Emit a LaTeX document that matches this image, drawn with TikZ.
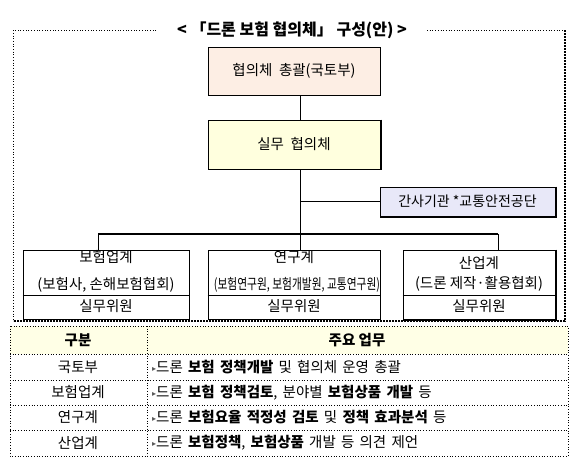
\documentclass[tikz,border=0pt]{standalone}
\usepackage{fontspec}
\setmainfont{Noto Sans CJK KR}
\newfontfamily\rowfont{Noto Sans CJK KR}[WordSpace=1.6]
\newfontfamily\dejavu{DejaVu Sans}
\usetikzlibrary{calc}
\definecolor{peach}{RGB}{253,238,228}
\definecolor{paleyellow}{RGB}{255,255,222}
\definecolor{lavender}{RGB}{232,232,248}
\definecolor{hdryellow}{RGB}{255,255,230}
\definecolor{markgray}{RGB}{90,90,90}
\newcommand{\mk}{\raisebox{1pt}{\dejavu\fontsize{8}{8}\selectfont\color{markgray}▸}}
\begin{document}
\begin{tikzpicture}[x=1pt,y=-1pt,
  every node/.style={font=\fontsize{14.5}{16}\selectfont, inner sep=0pt},
  orgbox/.style={draw, line width=1pt},
  shadowedge/.style={line width=2pt},
  conn/.style={line width=1pt},
  bar/.style={line width=2pt},
  outerdot/.style={dotted, line width=0.7pt},
  outerheavy/.style={line width=1.6pt, dash pattern=on 1.6pt off 1.4pt},
  tbl/.style={dotted, line width=0.7pt},
  cell/.style={anchor=center},
  rowtext/.style={anchor=west, font=\rowfont\fontsize{14.5}{16}\selectfont}]
\useasboundingbox (0,0) rectangle (579,464);

% title and outer dotted frame
\node[font=\bfseries\fontsize{16}{18}\selectfont] (title) at (292,30) {< 「드론 보험 협의체」 구성(안) >};
\draw[outerdot] (156,30) -- (13,30) -- (13,321);
\draw[outerdot] (427,30) -- (565,30);
\draw[outerheavy] (565,30) -- (565,321) -- (13,321);

% boxes
\node[orgbox, fill=peach, minimum width=172pt, minimum height=48pt] (b1) at (294,71) {협의체\ \ 총괄(국토부)};
\node[orgbox, fill=paleyellow, minimum width=172pt, minimum height=49pt] (b2) at (294,144.5) {실무\ \ 협의체};
\draw[shadowedge] (b2.north east) -- (b2.south east);
\node[orgbox, fill=lavender, minimum width=175pt, minimum height=29pt, font=\fontsize{14}{16}\selectfont] (b3) at (467.5,201.5) {간사기관 *교통안전공단};
\draw[shadowedge] (b3.north east) -- (b3.south east) -- (b3.south west);

\node[orgbox, minimum width=166pt, minimum height=69pt] (bA) at (106,284.5) {};
\node[orgbox, minimum width=172pt, minimum height=69pt] (bB) at (294,284.5) {};
\node[orgbox, minimum width=152pt, minimum height=69pt] (bC) at (479,284.5) {};
\draw[shadowedge] (bC.north east) -- (bC.south east) -- (bC.south west);

\foreach \b in {bA,bB,bC}
  \draw[line width=1pt] ($(\b.north west)+(0,46)$) -- ($(\b.north east)+(0,46)$);

\node (tA1) at ($(bA.north)+(0,8)$) {보험업계};
\node (tA2) at ($(bA.north)+(0,35)$) {(보험사, 손해보험협회)};
\node (tA3) at ($(bA.north)+(0,57)$) {실무위원};
\node (tB1) at ($(bB.north)+(0,8)$) {연구계};
\node (tB2) at ($(bB.north)+(3,35)$) {\scalebox{0.74}[1]{(보험연구원, 보험개발원, 교통연구원)}};
\node (tB3) at ($(bB.north)+(0,57)$) {실무위원};
\node (tC1) at ($(bC.north)+(0,14)$) {산업계};
\node (tC2) at ($(bC.north)+(0,34)$) {(드론 제작·활용협회)};
\node (tC3) at ($(bC.north)+(0,57)$) {실무위원};

% connectors
\coordinate (spine) at (300,234);
\coordinate (dropA) at (98,234);
\coordinate (dropC) at (498,234);
\draw[conn] (b1.south -| spine) -- (b2.north -| spine);
\draw[conn] (b2.south -| spine) -- (spine);
\draw[conn] (spine |- b3.west) -- (b3.west);
\draw[bar] (dropA) -- (dropC);
\draw[conn] (dropA) -- (dropA |- bA.north);
\draw[conn] (spine) -- (spine |- bB.north);
\draw[conn] (dropC) -- (dropC |- bC.north);

% table
\fill[hdryellow] (10,326) rectangle (568,354);
\draw[tbl] (10,326) rectangle (568,456);
\foreach \yy in {354,380,405,430} \draw[tbl] (10,\yy) -- (568,\yy);
\draw[tbl] (147,326) -- (147,456);

\node[cell, font=\bfseries\fontsize{14.5}{16}\selectfont] (h1) at (78,340) {구분};
\node[cell, font=\bfseries\fontsize{14.5}{16}\selectfont] (h2) at (357,340) {주요 업무};
\node[cell] (c1) at (78,367) {국토부};
\node[cell] (c2) at (78,392.5) {보험업계};
\node[cell] (c3) at (78,417.5) {연구계};
\node[cell] (c4) at (78,443) {산업계};
\node[rowtext] (r1) at (152,367) {\mk 드론 \textbf{보험 정책개발} 및 협의체 운영 총괄};
\node[rowtext] (r2) at (152,392.5) {\mk 드론 \textbf{보험 정책검토}, 분야별 \textbf{보험상품 개발} 등};
\node[rowtext] (r3) at (152,417.5) {\mk 드론 \textbf{보험요율 적정성 검토} 및 \textbf{정책 효과분석} 등};
\node[rowtext] (r4) at (152,443) {\mk 드론 \textbf{보험정책}, \textbf{보험상품} 개발 등 의견 제언};
\end{tikzpicture}
\end{document}
